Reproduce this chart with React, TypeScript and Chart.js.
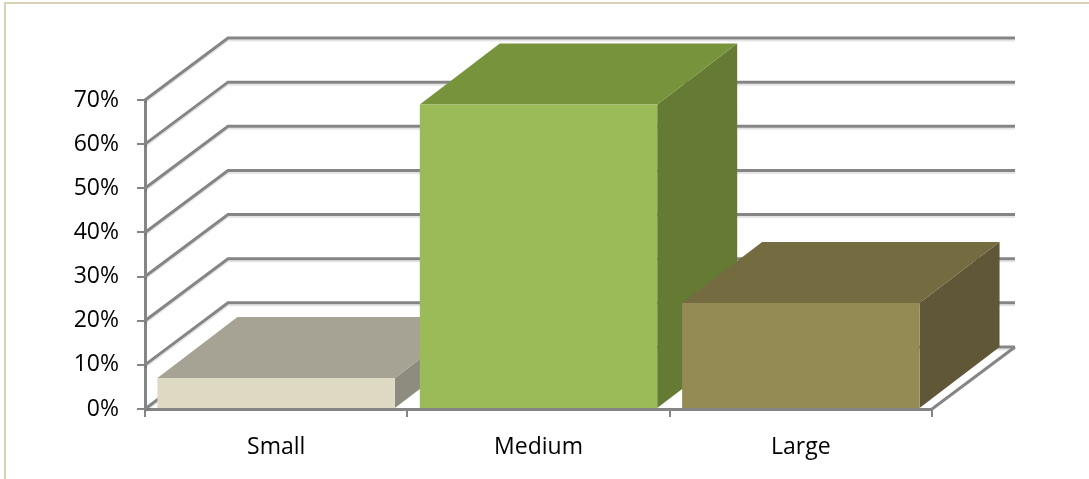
import React, { useEffect, useRef } from "react";
import { Chart, registerables } from "chart.js";

Chart.register(...registerables);

// ---- data ----
const categories = ["Small", "Medium", "Large"];
const shares = [7, 69, 24];
const frontColors = ["#DDD9C3", "#9BBB59", "#948A54"];
const topColors = ["#A6A394", "#77933C", "#746B40"];
const sideColors = ["#8E8C7E", "#657B33", "#5F5737"];
const yMax = 70;
const yStep = 10;

// ---- 3D look ----
const WALL_DX = 83;
const WALL_DY = -62;
const BAR_DX = 80;
const BAR_DY = -61;
const GRID_COLOR = "#858585";

const threeD = {
  id: "threeD",
  beforeDraw(chart: any) {
    const { ctx, width, height } = chart;
    ctx.save();
    ctx.fillStyle = "#ffffff";
    ctx.fillRect(0, 0, width, height);
    ctx.strokeStyle = "#D8D2B4";
    ctx.lineWidth = 2;
    ctx.beginPath();
    ctx.moveTo(5, height);
    ctx.lineTo(5, 3);
    ctx.lineTo(width, 3);
    ctx.stroke();
    ctx.restore();
  },
  beforeDatasetsDraw(chart: any) {
    const { ctx, chartArea: a, scales } = chart;
    const y = scales.y;
    ctx.save();
    ctx.lineCap = "butt";
    ctx.lineJoin = "miter";
    const drawGrid = (py: number) => {
      ctx.strokeStyle = "rgba(0,0,0,0.10)";
      ctx.lineWidth = 2;
      ctx.beginPath();
      ctx.moveTo(a.left, py + 2.5);
      ctx.lineTo(a.left + WALL_DX, py + WALL_DY + 2.5);
      ctx.lineTo(a.right + WALL_DX, py + WALL_DY + 2.5);
      ctx.stroke();
      ctx.strokeStyle = GRID_COLOR;
      ctx.lineWidth = 3;
      ctx.beginPath();
      ctx.moveTo(a.left, py);
      ctx.lineTo(a.left + WALL_DX, py + WALL_DY);
      ctx.lineTo(a.right + WALL_DX, py + WALL_DY);
      ctx.stroke();
    };
    y.ticks.forEach((t: any) => drawGrid(y.getPixelForValue(t.value)));
    ctx.strokeStyle = GRID_COLOR;
    ctx.lineWidth = 3;
    ctx.beginPath();
    ctx.moveTo(a.right, a.bottom);
    ctx.lineTo(a.right + WALL_DX, a.bottom + WALL_DY);
    ctx.stroke();

    const meta = chart.getDatasetMeta(0);
    meta.data.forEach((bar: any, i: number) => {
      const p = bar.getProps(["x", "y", "base", "width"], true);
      const l = p.x - p.width / 2;
      const r = p.x + p.width / 2;
      const top = p.y;
      const base = p.base;
      ctx.fillStyle = sideColors[i];
      ctx.beginPath();
      ctx.moveTo(r, top);
      ctx.lineTo(r + BAR_DX, top + BAR_DY);
      ctx.lineTo(r + BAR_DX, base + BAR_DY);
      ctx.lineTo(r, base);
      ctx.closePath();
      ctx.fill();
      ctx.fillStyle = topColors[i];
      ctx.beginPath();
      ctx.moveTo(l, top);
      ctx.lineTo(l + BAR_DX, top + BAR_DY);
      ctx.lineTo(r + BAR_DX, top + BAR_DY);
      ctx.lineTo(r, top);
      ctx.closePath();
      ctx.fill();
    });
    ctx.restore();
  },
};

export default function App() {
  const canvasRef = useRef<HTMLCanvasElement | null>(null);

  useEffect(() => {
    document.body.style.margin = "0";
    const canvas = canvasRef.current;
    if (!canvas) return;
    const chart = new Chart(canvas, {
      type: "bar",
      data: {
        labels: categories,
        datasets: [
          {
            data: shares,
            backgroundColor: frontColors,
            borderWidth: 0,
            barPercentage: 0.905,
            categoryPercentage: 1,
          },
        ],
      },
      options: {
        responsive: false,
        animation: false,
        events: [],
        layout: { padding: { left: 0, top: 100, right: 157, bottom: 0 } },
        plugins: {
          legend: { display: false },
          tooltip: { enabled: false },
          title: { display: false },
        },
        scales: {
          x: {
            afterFit(scale: any) {
              scale.height = 70;
            },
            grid: {
              display: true,
              drawOnChartArea: false,
              drawTicks: true,
              tickLength: 8,
              color: GRID_COLOR,
              lineWidth: 2,
              offset: true,
            },
            border: { display: true, color: GRID_COLOR, width: 3 },
            ticks: {
              color: "#000",
              padding: 17,
              font: { family: "'Open Sans'", size: 23 },
            },
          },
          y: {
            min: 0,
            max: yMax,
            afterFit(scale: any) {
              scale.width = 145;
            },
            grid: {
              display: true,
              drawOnChartArea: false,
              drawTicks: true,
              tickLength: 8,
              color: GRID_COLOR,
              lineWidth: 2,
            },
            border: { display: true, color: GRID_COLOR, width: 3 },
            ticks: {
              stepSize: yStep,
              color: "#000",
              padding: 18,
              font: { family: "'Open Sans'", size: 23 },
              callback: (v: any) => `${v}%`,
            },
          },
        },
      },
      plugins: [threeD],
    } as any);
    return () => chart.destroy();
  }, []);

  return (
    <div style={{ width: 1089, height: 479, position: "relative" }}>
      <canvas ref={canvasRef} width={1089} height={479} style={{ display: "block" }} />
    </div>
  );
}
